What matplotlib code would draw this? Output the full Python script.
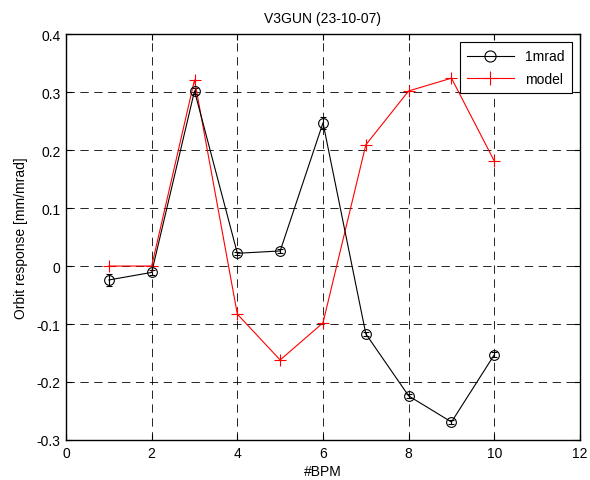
import matplotlib
matplotlib.use("Agg")
import matplotlib.pyplot as plt
from matplotlib.lines import Line2D

plt.rcParams['font.family'] = ['Liberation Sans', 'DejaVu Sans']
plt.rcParams['axes.unicode_minus'] = False
plt.rcParams['lines.scale_dashes'] = False

bpm = [1, 2, 3, 4, 5, 6, 7, 8, 9, 10]
measured = [-0.024, -0.011, 0.302, 0.022, 0.026, 0.247, -0.117, -0.224, -0.269, -0.153]
measured_err = [0.010, 0.004, 0.005, 0.003, 0.003, 0.010, 0.003, 0.003, 0.003, 0.004]
model = [0.0, 0.0, 0.321, -0.083, -0.162, -0.098, 0.209, 0.302, 0.324, 0.181]

xticks = [0, 2, 4, 6, 8, 10, 12]
yticks = [-0.3, -0.2, -0.1, 0, 0.1, 0.2, 0.3, 0.4]
yticklabels = ['-0.3', '-0.2', '-0.1', '0', '0.1', '0.2', '0.3', '0.4']

fig = plt.figure(figsize=(5.9, 4.81), dpi=100)
ax = fig.add_axes([0.1119, 0.0832, 0.8711, 0.8438])

ax.errorbar(bpm, measured, yerr=measured_err, color='black', marker='o',
            markersize=7, markerfacecolor='none', markeredgewidth=0.8,
            linewidth=0.8, elinewidth=0.8, capsize=2.5)
ax.plot(bpm, model, color='red', marker='+', markersize=9,
        markeredgewidth=0.8, linewidth=0.8)

ax.set_xlim(0, 12)
ax.set_ylim(-0.3, 0.4)
ax.set_xticks(xticks)
ax.set_yticks(yticks)
ax.set_yticklabels(yticklabels)
ax.tick_params(direction='in', top=True, right=True, labelsize=10,
               length=4, width=0.8, pad=4)
ax.grid(True, color='black', linestyle=(0, (6, 4)), linewidth=0.6)
for s in ax.spines.values():
    s.set_linewidth(1.0)

ax.set_title('V3GUN (23-10-07)', fontsize=10, pad=9)
ax.set_xlabel('#BPM', fontsize=10, labelpad=3)
ax.set_ylabel('Orbit response [mm/mrad]', fontsize=10, labelpad=6)

handles = [
    Line2D([], [], color='black', marker='o', markersize=8,
           markerfacecolor='none', markeredgewidth=0.8, linewidth=0.8),
    Line2D([], [], color='red', marker='+', markersize=10,
           markeredgewidth=0.8, linewidth=0.8),
]
leg = ax.legend(handles, ['1mrad', 'model'], loc='upper right', fontsize=10,
                fancybox=False, framealpha=1, edgecolor='black',
                borderaxespad=0.6, handlelength=3.4, borderpad=0.5,
                labelspacing=0.6, handletextpad=0.8)
leg.get_frame().set_linewidth(0.8)

fig.savefig('out.png', dpi=100, facecolor='white')
